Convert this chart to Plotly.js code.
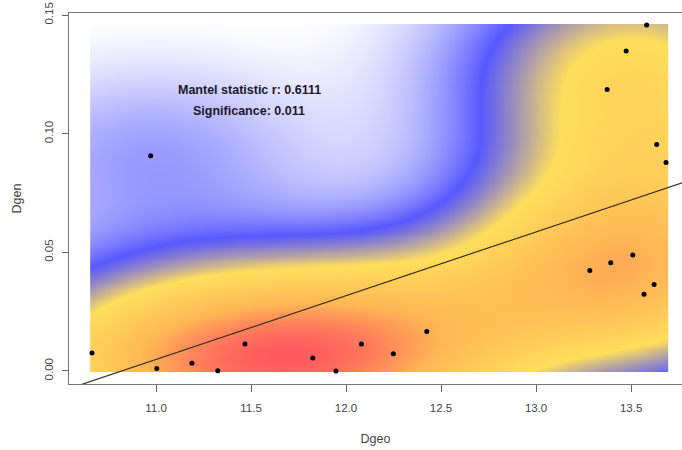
<!DOCTYPE html>
<html>
<head>
<meta charset="utf-8">
<script src="https://cdn.plot.ly/plotly-3.0.1.min.js"></script>
<style>html,body{margin:0;padding:0;background:#fff;}#chart{width:682px;height:450px;}</style>
</head>
<body>
<div id="chart"></div>
<script>
// Data
const dgeo = [10.663, 10.972, 11.004, 11.189, 11.325, 11.468, 11.825, 11.947, 12.081, 12.249, 12.425,
              13.283, 13.393, 13.509, 13.568, 13.621, 13.582, 13.474, 13.374, 13.635, 13.684];
const dgen = [0.0076, 0.0907, 0.0010, 0.0032, 0.0001, 0.0114, 0.0055, 0.0000, 0.0114, 0.0072, 0.0166,
              0.0423, 0.0456, 0.0489, 0.0323, 0.0364, 0.1458, 0.1349, 0.1187, 0.0955, 0.0879];
const xTicks = [11.0, 11.5, 12.0, 12.5, 13.0, 13.5];
const xTickLabels = ["11.0", "11.5", "12.0", "12.5", "13.0", "13.5"];
const yTicks = [0.00, 0.05, 0.10, 0.15];
const yTickLabels = ["0.00", "0.05", "0.10", "0.15"];
const annotationLines = ["Mantel statistic r: 0.6111", "Significance: 0.011"];

// helpers (R-like)
function mean(a){return a.reduce((s,v)=>s+v,0)/a.length;}
function sd(a){const m=mean(a);return Math.sqrt(a.reduce((s,v)=>s+(v-m)*(v-m),0)/(a.length-1));}
function quantile(a,p){const s=[...a].sort((u,v)=>u-v);const h=(s.length-1)*p;const lo=Math.floor(h);return s[lo]+(h-lo)*((s[Math.min(lo+1,s.length-1)])-s[lo]);}
function bwNrd(a){const r=(quantile(a,0.75)-quantile(a,0.25))/1.34;return 4*1.06*Math.min(sd(a),r)*Math.pow(a.length,-0.2);}

// 2D Gaussian kernel density of the points (as MASS::kde2d defaults)
const N = 160;
const hx = bwNrd(dgeo)/4, hy = bwNrd(dgen)/4;
const xmin = Math.min(...dgeo), xmax = Math.max(...dgeo);
const ymin = Math.min(...dgen), ymax = Math.max(...dgen);
const gx = [], gy = [];
for (let i=0;i<N;i++){gx.push(xmin+(xmax-xmin)*i/(N-1)); gy.push(ymin+(ymax-ymin)*i/(N-1));}
const z = [];
for (let j=0;j<N;j++){
  const row=[];
  for (let i=0;i<N;i++){
    let s=0;
    for (let k=0;k<dgeo.length;k++){
      const u=(gx[i]-dgeo[k])/hx, v=(gy[j]-dgen[k])/hy;
      s+=Math.exp(-0.5*(u*u+v*v));
    }
    row.push(s/(2*Math.PI*dgeo.length*hx*hy));
  }
  z.push(row);
}

// least-squares line
const mx=mean(dgeo), my=mean(dgen);
let sxy=0,sxx=0;
for(let k=0;k<dgeo.length;k++){sxy+=(dgeo[k]-mx)*(dgen[k]-my);sxx+=(dgeo[k]-mx)**2;}
const slope=sxy/sxx, intercept=my-slope*mx;
const lineX=[10.0, 14.5];
const lineY=lineX.map(x=>intercept+slope*x);

const traces = [
  {type:'heatmap', x:gx, y:gy, z:z, zsmooth:'best', showscale:false, hoverinfo:'skip',
   colorscale:[[0,'#ffffff'],[0.22,'#5858ff'],[0.43,'#ffdf5c'],[0.74,'#ffb655'],[1,'#ff5a5f']]},
  {type:'scatter', mode:'lines', x:lineX, y:lineY, line:{color:'#3a3020', width:1.2}, hoverinfo:'skip'},
  {type:'scatter', mode:'markers', x:dgeo, y:dgen, marker:{color:'#000000', size:5}, cliponaxis:false, hoverinfo:'skip'}
];

const layout = {
  width:682, height:450,
  margin:{l:69, r:0, t:13, b:66},
  paper_bgcolor:'#ffffff', plot_bgcolor:'#ffffff',
  showlegend:false,
  font:{family:'Liberation Sans, Arial, sans-serif', color:'#444444', size:12},
  xaxis:{range:[10.542, 13.768], tickmode:'array', tickvals:xTicks, ticktext:xTickLabels,
    ticks:'outside', ticklen:7, tickcolor:'#666', showgrid:false, zeroline:false,
    showline:true, linecolor:'#777', linewidth:1.2, mirror:true, ticklabelstandoff:6,
    tickfont:{size:11.5, color:'#444'},
    title:{text:'Dgeo', font:{size:12.5, color:'#444'}, standoff:21}},
  yaxis:{range:[-0.0055, 0.1509], tickmode:'array', tickvals:yTicks, ticktext:yTickLabels,
    ticks:'outside', ticklen:6, tickcolor:'#666', showgrid:false, zeroline:false,
    showline:true, linecolor:'#777', linewidth:1.2, mirror:false, tickangle:-90, ticklabelstandoff:4,
    tickfont:{size:11.5, color:'#444'},
    title:{text:'Dgen', font:{size:12.5, color:'#444'}, standoff:18}},
  annotations:[
    {x:11.49, y:0.1184, xref:'x', yref:'y', text:annotationLines[0], showarrow:false,
     font:{size:12.5, color:'#1a1a2a', family:'Liberation Sans, Arial, sans-serif', weight:'bold'}},
    {x:11.49, y:0.1096, xref:'x', yref:'y', text:annotationLines[1], showarrow:false,
     font:{size:12.5, color:'#1a1a2a', family:'Liberation Sans, Arial, sans-serif', weight:'bold'}}
  ]
};

Plotly.newPlot('chart', traces, layout, {staticPlot:true, displayModeBar:false});
</script>
</body>
</html>
